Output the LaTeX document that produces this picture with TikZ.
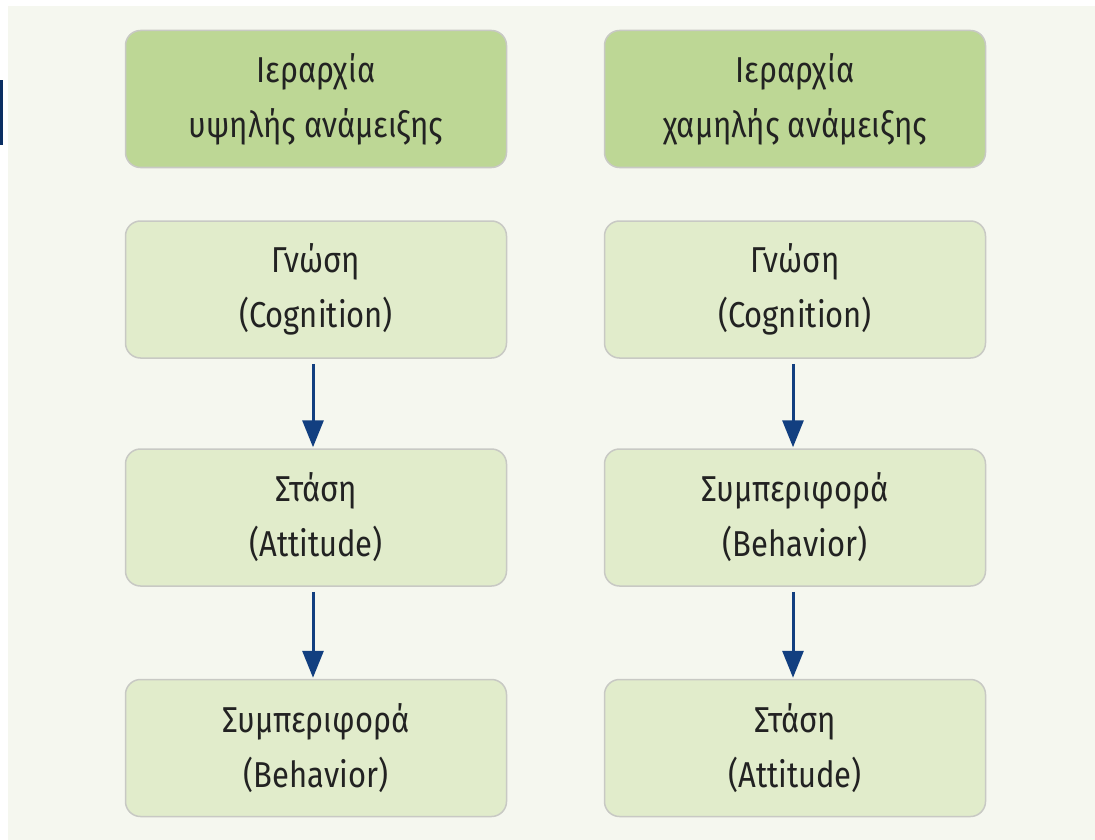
\documentclass[tikz,border=0pt]{standalone}
\usepackage{fontspec}
\setmainfont{Fira Sans}[FakeStretch=0.86]
\usetikzlibrary{arrows.meta}
\definecolor{bgc}{HTML}{F5F7EF}
\definecolor{headc}{HTML}{BDD795}
\definecolor{boxc}{HTML}{E1ECCB}
\definecolor{edgec}{HTML}{C8C9C4}
\definecolor{arrc}{HTML}{123F80}
\definecolor{txtc}{HTML}{222222}
\definecolor{barc}{HTML}{0B2F63}
\tikzset{
  box/.style={draw=edgec, line width=1.5pt, rounded corners=15pt, fill=boxc,
    minimum width=381pt, minimum height=137pt, align=center, text=txtc,
    font=\fontsize{36}{55}\selectfont},
  headbox/.style={box, fill=headc},
  flow/.style={draw=arrc, line width=3pt, -{Triangle[width=21pt,length=27pt]},
    shorten <=5pt, shorten >=1pt}
}
\begin{document}
\begin{tikzpicture}[x=1pt,y=-1pt]
\useasboundingbox (0,0) rectangle (1095,840);
\fill[white] (0,0) rectangle (1095,840);
\fill[bgc] (8,6) rectangle (1095,840);
\fill[barc] (0,80) rectangle (3,145);
\node[headbox] (h1) at (316,99) {Ιεραρχία\\υψηλής ανάμειξης};
\node[headbox] (h2) at (795,99) {Ιεραρχία\\χαμηλής ανάμειξης};
\node[box] (a1) at (316,289.5) {Γνώση\\(Cognition)};
\node[box] (a2) at (316,517.5) {Στάση\\(Attitude)};
\node[box] (a3) at (316,748) {Συμπεριφορά\\(Behavior)};
\node[box] (b1) at (795,289.5) {Γνώση\\(Cognition)};
\node[box] (b2) at (795,517.5) {Συμπεριφορά\\(Behavior)};
\node[box] (b3) at (795,748) {Στάση\\(Attitude)};
\draw[flow] ([xshift=-3pt]a1.south) -- ([xshift=-3pt]a2.north);
\draw[flow] ([xshift=-3pt]a2.south) -- ([xshift=-3pt]a3.north);
\draw[flow] ([xshift=-2pt]b1.south) -- ([xshift=-2pt]b2.north);
\draw[flow] ([xshift=-2pt]b2.south) -- ([xshift=-2pt]b3.north);
\end{tikzpicture}
\end{document}
